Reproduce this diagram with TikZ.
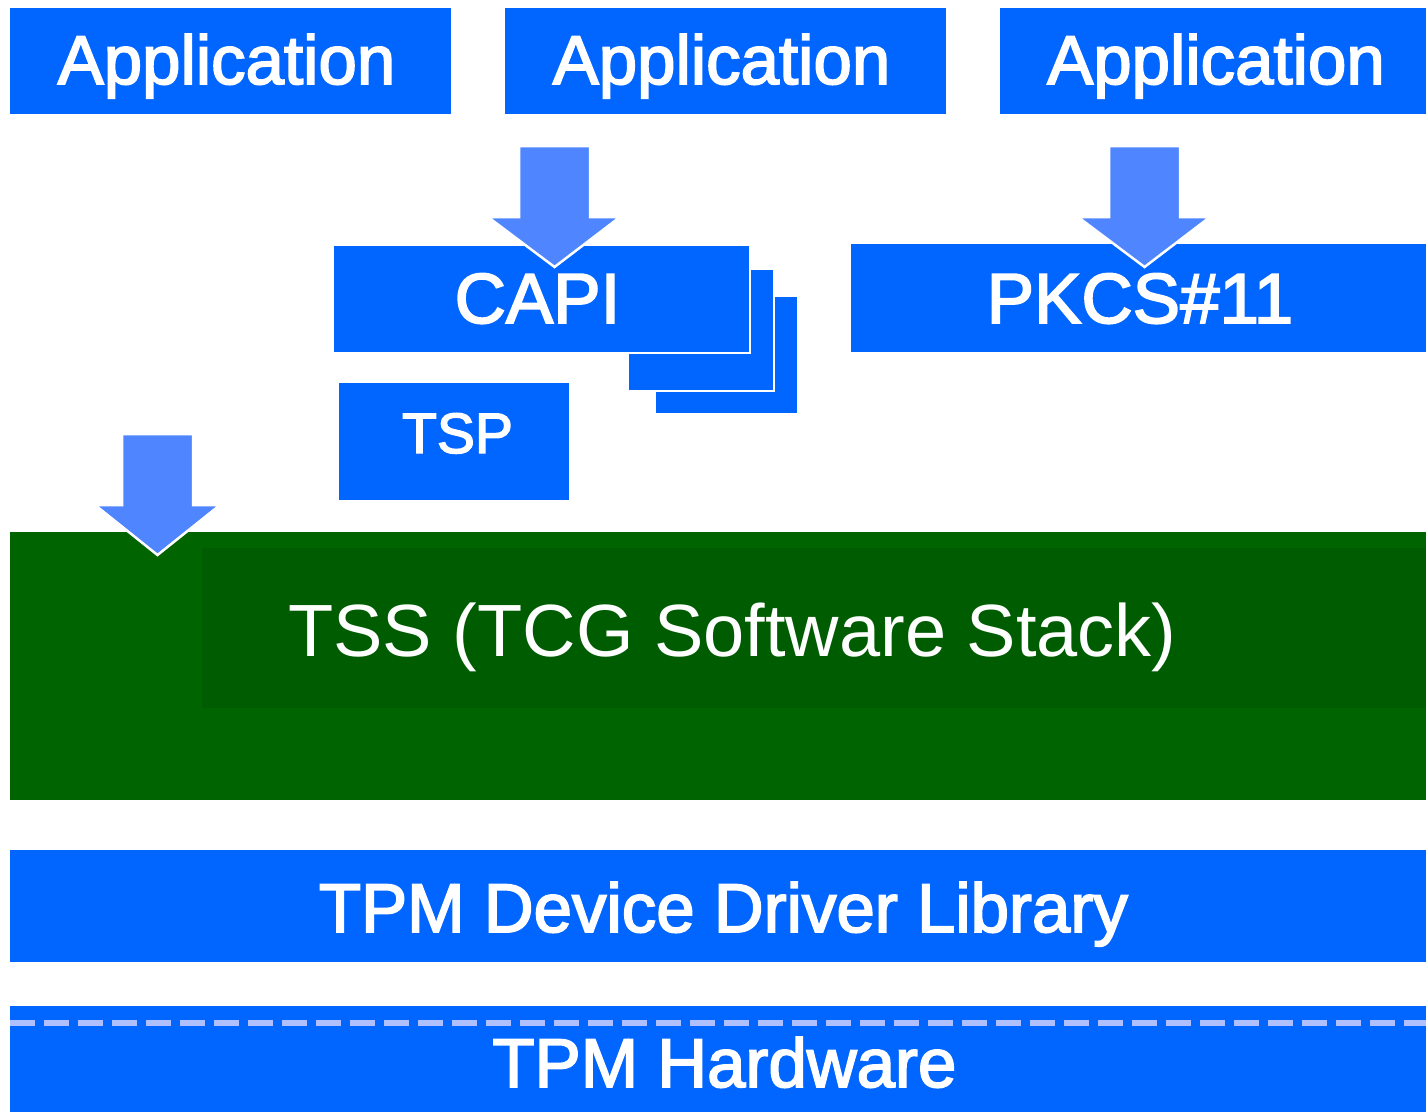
\documentclass[tikz,border=0pt]{standalone}
\usepackage{fontspec}
\setmainfont{Liberation Sans}
\newfontfamily\boldish[FakeBold=2.5]{Liberation Sans}
\definecolor{tpmblue}{HTML}{0066FF}
\definecolor{arrowblue}{HTML}{4F86FF}
\definecolor{tssgreen}{HTML}{006400}
\definecolor{tssinner}{HTML}{005C00}
\definecolor{dashblue}{HTML}{B0C0FF}
\tikzset{
  bluebox/.style={fill=tpmblue, draw=none, inner sep=0pt, anchor=north west},
  stackbox/.style={fill=tpmblue, draw=white, line width=2pt, inner sep=0pt, anchor=north west},
  boxtext/.style={text=white, font=\boldish\fontsize{69}{69}\selectfont, anchor=base, inner sep=0pt},
  blockarrow/.style={fill=arrowblue, draw=white, line width=2.5pt, line join=miter},
}
\begin{document}
\begin{tikzpicture}[x=1pt,y=-1pt]
\useasboundingbox (0,0) rectangle (1426,1112);
\fill[white] (0,0) rectangle (1426,1112);

% Application boxes
\node[bluebox, minimum width=441pt, minimum height=106pt] (app1) at (10,8) {};
\node[bluebox, minimum width=441pt, minimum height=106pt] (app2) at (505,8) {};
\node[bluebox, minimum width=426pt, minimum height=106pt] (app3) at (1000,8) {};
\node[boxtext] (app1t) at (226.5,84) {Application};
\node[boxtext] (app2t) at (721.5,84) {Application};
\node[boxtext] (app3t) at (1216,84) {Application};

% CAPI stack
\node[stackbox, minimum width=143pt, minimum height=118pt] (capi3) at (654,295) {};
\node[stackbox, minimum width=146pt, minimum height=122pt] (capi2) at (627,268) {};
\node[stackbox, minimum width=417pt, minimum height=108pt] (capi) at (332,244) {};
\node[boxtext, font=\boldish\fontsize{71}{71}\selectfont] (capit) at (537.5,323) {CAPI};

% PKCS#11
\node[bluebox, minimum width=575pt, minimum height=108pt] (pkcs) at (851,244) {};
\node[boxtext, font=\boldish\fontsize{71}{71}\selectfont] (pkcst) at (1140,323) {PKCS\#11};

% TSP
\node[bluebox, minimum width=230pt, minimum height=117pt] (tsp) at (339,383) {};
\node[boxtext, font=\boldish\fontsize{57}{57}\selectfont] (tspt) at (457.5,453) {TSP};

% TSS
\node[fill=tssgreen, inner sep=0pt, anchor=north west, minimum width=1416pt, minimum height=268pt] (tss) at (10,532) {};
\fill[tssinner] (202,548) rectangle (1426,708);
\node[text=white, font=\fontsize{74}{74}\selectfont, anchor=base, inner sep=0pt] (tsst) at (732.5,656) {TSS (TCG Software Stack)};

% TPM Device Driver Library
\node[bluebox, minimum width=1416pt, minimum height=112pt] (ddl) at (10,850) {};
\node[boxtext] (ddlt) at (723.5,932) {TPM Device Driver Library};

% TPM Hardware
\node[bluebox, minimum width=1416pt, minimum height=106pt] (hw) at (10,1006) {};
\draw[dashblue, line width=6pt, dash pattern=on 25pt off 9pt] (10,1023) -- (1426,1023);
\node[boxtext] (hwt) at (724.5,1087) {TPM Hardware};

% Block arrows
\draw[blockarrow] (519,146) -- (590,146) -- (590,217) -- (620,217) -- (554.5,267) -- (488,217) -- (519,217) -- cycle;
\draw[blockarrow] (1109,146) -- (1180,146) -- (1180,217) -- (1210,217) -- (1144.5,267) -- (1078,217) -- (1109,217) -- cycle;
\draw[blockarrow] (122,434) -- (193,434) -- (193,505) -- (220,505) -- (157.5,555) -- (95,505) -- (122,505) -- cycle;
\end{tikzpicture}
\end{document}
